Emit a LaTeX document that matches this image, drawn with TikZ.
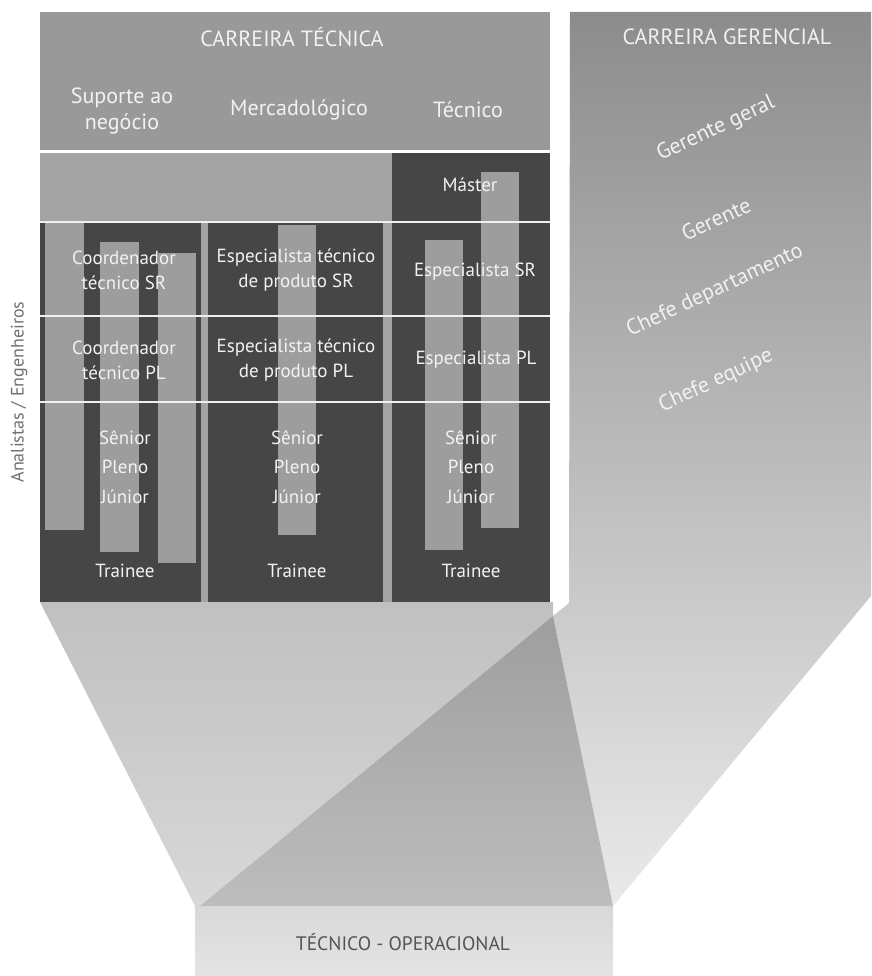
\documentclass[tikz,border=0pt]{standalone}
\usepackage{fontspec}
\setmainfont{PT Sans}
\definecolor{hdr}{HTML}{999999}
\definecolor{band}{HTML}{A3A3A3}
\definecolor{dark}{HTML}{464646}
\definecolor{bar}{HTML}{9D9D9D}
\definecolor{wtxt}{HTML}{F2F2F2}
\definecolor{gtop}{HTML}{8C8C8C}
\definecolor{gbot}{HTML}{EAEAEA}
\definecolor{trtop}{HTML}{C0C0C0}
\definecolor{trbot}{HTML}{D8D8D8}
\definecolor{tritop}{HTML}{9E9E9E}
\definecolor{tribot}{HTML}{BDBDBD}
\definecolor{boxtop}{HTML}{D8D8D8}
\definecolor{boxbot}{HTML}{E4E4E4}
\definecolor{sidetxt}{HTML}{707070}
\definecolor{optxt}{HTML}{555555}
\begin{document}
\begin{tikzpicture}[x=1pt,y=-1pt,
  lbl/.style={text=wtxt, font=\fontsize{19}{25}\selectfont, align=center, inner sep=0pt},
  hlbl/.style={text=wtxt, font=\fontsize{22}{26}\selectfont, align=center, inner sep=0pt},
  rlbl/.style={text=wtxt, font=\fontsize{22}{26}\selectfont, rotate=25, inner sep=0pt},
  sepline/.style={draw=white!88!gray, line width=1.6pt},
  barbox/.style={fill=bar}]
\useasboundingbox (0,0) rectangle (871,976);
% right (managerial) panel
\shade[top color=gtop, bottom color=gbot] (570,12) -- (871,12) -- (871,596) -- (613,906) -- (553,616) -- (569,603) -- cycle;
% left funnel
\shade[top color=trtop, bottom color=trbot] (40,602) -- (553,602) -- (553,616) -- (200,906) -- (195,906) -- cycle;
% dark triangle
\shade[top color=tritop, bottom color=tribot] (553,616) -- (613,906) -- (200,906) -- cycle;
% bottom box
\shade[top color=boxtop, bottom color=boxbot] (195,906) rectangle (613,976);
\node[text=optxt, font=\fontsize{19.5}{22}\selectfont] (oper) at (403,942) {TÉCNICO - OPERACIONAL};
% technical career panel
\fill[hdr] (40,12) rectangle (550,150);
\fill[band] (40,153) rectangle (550,602);
\fill[dark] (392,153) rectangle (550,222);
\fill[dark] (40,222) rectangle (201,602);
\fill[dark] (208,222) rectangle (383,602);
\fill[dark] (392,222) rectangle (550,602);
% bars
\fill[barbox] (45,222) rectangle (84,530);
\fill[barbox] (100,242) rectangle (139,552);
\fill[barbox] (158,253) rectangle (196,563);
\fill[barbox] (278,225) rectangle (316,535);
\fill[barbox] (425,240) rectangle (463,550);
\fill[barbox] (481,172) rectangle (519,528);
% separators
\draw[sepline] (40,222) -- (550,222);
\draw[sepline] (40,316) -- (550,316);
\draw[sepline] (40,402) -- (550,402);
% header texts
\node[hlbl] (ct) at (292,37) {CARREIRA TÉCNICA};
\node[hlbl] (cg) at (727,37) {CARREIRA GERENCIAL};
\node[hlbl] (sup) at (122,111) {Suporte ao\\negócio};
\node[hlbl] (merc) at (299,110) {Mercadológico};
\node[hlbl] (tec) at (468,110) {Técnico};
% technical cells
\node[lbl] (master) at (470,185) {Máster};
\node[lbl] (c1sr) at (124,270) {Coordenador\\técnico SR};
\node[lbl] (c1pl) at (124,360) {Coordenador\\técnico PL};
\node[lbl] (c2sr) at (296,270) {Especialista técnico\\de produto SR};
\node[lbl] (c2pl) at (296,360) {Especialista técnico\\de produto PL};
\node[lbl] (c3sr) at (475,272) {Especialista SR};
\node[lbl] (c3pl) at (476,360) {Especialista PL};
\foreach \cx/\nm in {125/a,297/b,471/c}{
  \node[lbl, font=\fontsize{19}{29.5}\selectfont] (lv\nm) at (\cx,467) {Sênior\\Pleno\\Júnior};
  \node[lbl] (tr\nm) at (\cx,571) {Trainee};
}
% managerial texts
\node[rlbl] (gg) at (716,129) {Gerente geral};
\node[rlbl] (ger) at (716,219) {Gerente};
\node[rlbl] (cd) at (715,291) {Chefe departamento};
\node[rlbl] (ce) at (716,381) {Chefe equipe};
% side label
\node[text=sidetxt, font=\fontsize{18}{20}\selectfont, rotate=90, inner sep=0pt] (side) at (19,392) {Analistas / Engenheiros};
\end{tikzpicture}
\end{document}
